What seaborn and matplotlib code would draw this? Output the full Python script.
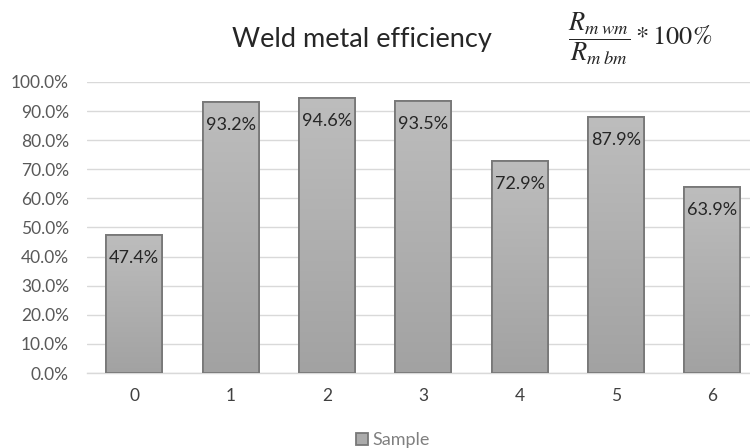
import numpy as np
import pandas as pd
import matplotlib
matplotlib.use("Agg")
import matplotlib.pyplot as plt
from matplotlib.patches import Rectangle
from matplotlib.ticker import PercentFormatter
import seaborn as sns

# Chart data
samples = ["0", "1", "2", "3", "4", "5", "6"]
efficiency = [47.4, 93.2, 94.6, 93.5, 72.9, 87.9, 63.9]
series_name = "Sample"
y_ticks = [0, 10, 20, 30, 40, 50, 60, 70, 80, 90, 100]

df = pd.DataFrame({"sample": samples, "efficiency": efficiency, "series": series_name})

sns.set_theme(style="white")
plt.rcParams["font.family"] = ["Lato", "DejaVu Sans"]
plt.rcParams["mathtext.fontset"] = "stix"

fig = plt.figure(figsize=(7.5, 4.48), dpi=100)
ax = fig.add_axes([87 / 750, 75 / 448, 663 / 750, 291 / 448])

sns.barplot(data=df, x="sample", y="efficiency", hue="series", ax=ax,
            palette=["#ababab"], width=0.58, edgecolor="#787878", linewidth=1.3,
            legend=True, zorder=2)

# gradient fill like the original (lighter at the top)
grad = np.linspace(0, 1, 256).reshape(-1, 1)
cmap = matplotlib.colors.LinearSegmentedColormap.from_list("g", ["#a2a2a2", "#bdbdbd"])
for p in list(ax.patches):
    x0, y0 = p.get_x(), p.get_y()
    w, h = p.get_width(), p.get_height()
    if h <= 0:
        continue
    im = ax.imshow(grad, cmap=cmap, extent=[x0, x0 + w, y0, y0 + h],
                   origin="lower", aspect="auto", zorder=2.5)
    im.set_clip_path(p)
    ax.add_patch(Rectangle((x0, y0), w, h, fill=False, edgecolor="#787878",
                           linewidth=1.3, zorder=3))

for i, v in enumerate(efficiency):
    ax.annotate(f"{v:.1f}%", (i, v), xytext=(0, -23), textcoords="offset pixels",
                ha="center", va="center", fontsize=13, color="#262626", zorder=4)

ax.set_xlim(-0.49, 6.39)
ax.set_ylim(0, 100)
ax.set_yticks(y_ticks)
ax.yaxis.set_major_formatter(PercentFormatter(decimals=1))
ax.grid(axis="y", color="#d9d9d9", linewidth=1.0)
ax.set_axisbelow(True)
for s in ["top", "right", "left"]:
    ax.spines[s].set_visible(False)
ax.spines["bottom"].set_color("#d9d9d9")
ax.spines["bottom"].set_linewidth(1.0)
ax.tick_params(axis="y", length=0, pad=13, labelsize=12.5, labelcolor="#595959")
ax.tick_params(axis="x", length=0, pad=11, labelsize=12.5, labelcolor="#404040")
ax.set_xlabel("")
ax.set_ylabel("")

# legend at the bottom
leg = ax.get_legend()
handles, labels = ax.get_legend_handles_labels()
leg.remove()
fig.legend(handles, labels, loc="center", bbox_to_anchor=(393 / 750, 1 - 440 / 448),
           frameon=False, fontsize=13, labelcolor="#808080", handlelength=0.65,
           handleheight=0.65, handletextpad=0.25, borderpad=0)

fig.text(362 / 750, 1 - 40 / 448, "Weld metal efficiency", ha="center", va="center",
         fontsize=19.5, color="#262626")
fig.text(640 / 750, 1 - 39 / 448, r"$\dfrac{R_{m\;wm}}{R_{m\;bm}} * 100\%$",
         ha="center", va="center", fontsize=19, color="#262626")

fig.savefig("out.png", dpi=100)
